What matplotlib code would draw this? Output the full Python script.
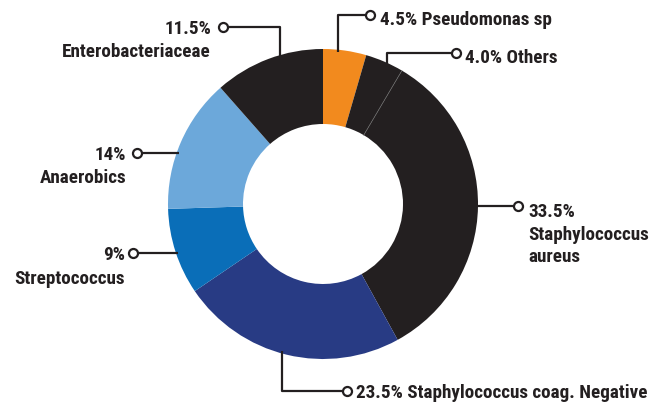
import numpy as np
import matplotlib
matplotlib.use('Agg')
import matplotlib.pyplot as plt
from matplotlib import font_manager

# dati (percentuali, in senso orario da ore 12)
nomi = ['Pseudomonas sp', 'Others', 'Staphylococcus', 'Staphylococcus coag. Negative',
        'Streptococcus', 'Anaerobics', 'Enterobacteriaceae']
etichette_pct = ['4.5%', '4.0%', '33.5%', '23.5%', '9%', '14%', '11.5%']
valori = [4.5, 4.0, 33.5, 23.5, 9.0, 14.0, 11.5]
colori = ['#F28A1E', '#231F20', '#231F20', '#283B84', '#0A6EB8', '#6CA8DA', '#231F20']

# font stretto se c'e', altrimenti Roboto
nomi_font = {f.name for f in font_manager.fontManager.ttflist}
famiglia = 'DejaVu Sans'
for f in ['Roboto Condensed', 'Liberation Sans Narrow', 'Roboto']:
    if f in nomi_font:
        famiglia = f
        break
plt.rcParams['font.family'] = [famiglia, 'DejaVu Sans']
testo_col = '#231F20'

W, H = 667, 404
fig = plt.figure(figsize=(W / 100, H / 100), dpi=100)
ax = fig.add_axes([0, 0, 1, 1])

cx, cy, R, spessore = 323, 204, 155, 75

# con asse y invertito il verso orario si ottiene con counterclock=True e startangle=-90
wedges, _ = ax.pie(valori, colors=colori, startangle=-90, counterclock=True,
                   center=(cx, cy), radius=R, frame=True,
                   wedgeprops=dict(width=spessore, linewidth=0))
ax.set_xlim(0, W)
ax.set_ylim(H, 0)  # coordinate in pixel, y verso il basso
ax.set_aspect('equal')
ax.axis('off')

# linea sottile grigia tra Others e Staphylococcus aureus
ang = np.deg2rad(wedges[1].theta2)
r_in, r_out = R - spessore, R
ax.plot([cx + r_in * np.cos(ang), cx + r_out * np.cos(ang)],
        [cy + r_in * np.sin(ang), cy + r_out * np.sin(ang)], color='#6a6a6a', lw=0.5)

def y_bordo(x):
    # distanza verticale dal centro al bordo esterno per una x data
    return np.sqrt(R**2 - (x - cx)**2)

def x_bordo(y):
    return np.sqrt(R**2 - (y - cy)**2)

fs = 13.8
kw = dict(color=testo_col, fontsize=fs, fontweight='bold', va='baseline')
lc = dict(color=testo_col, lw=1.6, solid_capstyle='butt', zorder=3)

def pallino(x, y):
    ax.plot(x, y, 'o', ms=6.5, mfc='white', mec=testo_col, mew=1.6, zorder=4)

# Pseudomonas
x0, yl, xc = 338, 15, 370
ax.plot([x0, x0, xc], [cy - y_bordo(x0) + 2, yl, yl], **lc)
pallino(xc, yl)
ax.text(380, 25, etichette_pct[0] + ' ' + nomi[0], ha='left', **kw)

# Others
x0, yl, xc = 387, 53, 456
ax.plot([x0, x0, xc], [cy - y_bordo(x0) + 2, yl, yl], **lc)
pallino(xc, yl)
ax.text(465, 63, etichette_pct[1] + ' ' + nomi[1], ha='left', **kw)

# Staphylococcus aureus
yl, xc = 206, 518
ax.plot([cx + x_bordo(yl) - 2, xc], [yl, yl], **lc)
pallino(xc, yl)
ax.text(528, 217, etichette_pct[2], ha='left', **kw)
ax.text(528, 240, nomi[2], ha='left', **kw)
ax.text(528, 262, 'aureus', ha='left', **kw)

# Staphylococcus coag. Negative
x0, yl, xc = 282, 391, 347
ax.plot([x0, x0, xc], [cy + y_bordo(x0) - 2, yl, yl], **lc)
pallino(xc, yl)
ax.text(356, 398, etichette_pct[3] + ' ' + nomi[3], ha='left', **kw)

# Streptococcus
yl, xc = 253, 133
ax.plot([cx - x_bordo(yl) + 2, xc], [yl, yl], **lc)
pallino(xc, yl)
ax.text(125, 260, etichette_pct[4], ha='right', **kw)
ax.text(125, 284, nomi[4], ha='right', **kw)

# Anaerobics
yl, xc = 153, 137
ax.plot([cx - x_bordo(yl) + 2, xc], [yl, yl], **lc)
pallino(xc, yl)
ax.text(126, 160, etichette_pct[5], ha='right', **kw)
ax.text(126, 183, nomi[5], ha='right', **kw)

# Enterobacteriaceae
x0, yl, xc = 280, 27, 223
ax.plot([x0, x0, xc], [cy - y_bordo(x0) + 2, yl, yl], **lc)
pallino(xc, yl)
ax.text(211, 34, etichette_pct[6], ha='right', **kw)
ax.text(211, 57, nomi[6], ha='right', **kw)

fig.savefig('out.png', dpi=100)
